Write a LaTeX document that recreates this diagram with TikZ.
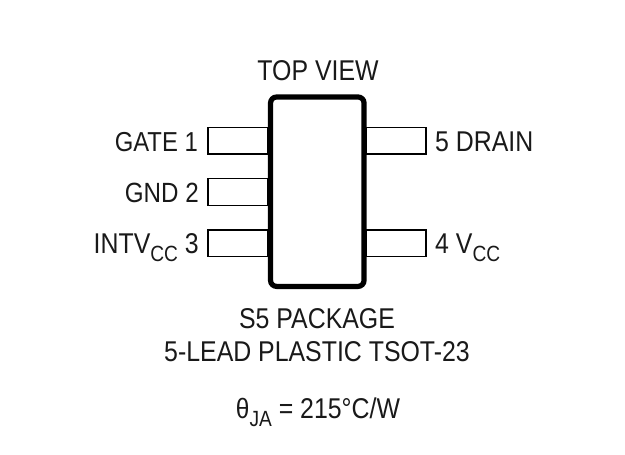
\documentclass[tikz,border=0pt]{standalone}
\usepackage{fontspec}
\setmainfont[FakeStretch=0.87]{Liberation Sans}
\tikzset{
  lbl/.style={inner sep=0pt,text=black!90,font=\fontsize{28.6pt}{30pt}\selectfont},
  pin/.style={draw=black,line width=1.4pt,fill=white,minimum width=60pt,minimum height=26.6pt,inner sep=0pt},
  pkg/.style={draw=black,line width=5.2pt,rounded corners=6pt,fill=white,inner sep=0pt}
}
\newcommand{\sbs}[1]{\raisebox{-0.3em}{\fontsize{22pt}{24pt}\selectfont #1}}
\begin{document}
\begin{tikzpicture}[x=1pt,y=-1pt]
\useasboundingbox (0,0) rectangle (625,455);
\node[pin] (p1) at (238,140.7) {};
\node[pin] (p2) at (238,192) {};
\node[pin] (p3) at (238,243.2) {};
\node[pin] (p5) at (396,140.7) {};
\node[pin] (p4) at (396,243.2) {};
\node[pkg,minimum width=93.5pt,minimum height=189.4pt] (body) at (317.3,191.7) {};
\node[lbl,anchor=base] (top) at (318,81) {TOP VIEW};
\node[lbl,anchor=base east] (l1) at (198,151) {\fontsize{27.4pt}{30pt}\selectfont GATE 1};
\node[lbl,anchor=base east] (l2) at (199,202) {\fontsize{27.8pt}{30pt}\selectfont GND 2};
\node[lbl,anchor=base east] (l3) at (199,253) {INTV\sbs{CC} 3};
\node[lbl,anchor=base west] (l5) at (435,151) {5 DRAIN};
\node[lbl,anchor=base west] (l4) at (435,253) {4 V\sbs{CC}};
\node[lbl,anchor=base] (s5) at (317,328) {S5 PACKAGE};
\node[lbl,anchor=base] (lead) at (317,361) {5-LEAD PLASTIC TSOT-23};
\node[lbl,anchor=base] (theta) at (318,418) {{\fontsize{28pt}{28pt}\selectfont θ}\sbs{JA} = 215°C/W};
\end{tikzpicture}
\end{document}
